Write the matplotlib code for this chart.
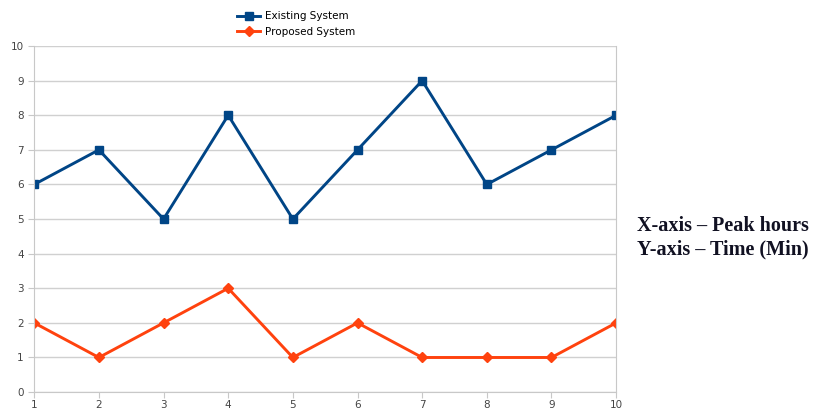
import matplotlib.pyplot as plt

# peak hours and time (min)
hours = [1, 2, 3, 4, 5, 6, 7, 8, 9, 10]
existing = [6, 7, 5, 8, 5, 7, 9, 6, 7, 8]
proposed = [2, 1, 2, 3, 1, 2, 1, 1, 1, 2]

fig = plt.figure(figsize=(8.15, 4.11), dpi=100)
ax = fig.add_axes([0.042, 0.046, 0.714, 0.842])

ax.plot(hours, existing, color='#004586', linewidth=2.1, marker='s', markersize=6,
        label='Existing System')
ax.plot(hours, proposed, color='#ff420e', linewidth=2.1, marker='D', markersize=5,
        label='Proposed System')

ax.set_xlim(1, 10)
ax.set_ylim(0, 10)
ax.set_xticks(hours)
ax.set_yticks(range(0, 11))
ax.grid(axis='y', color='#d0d0d0', linewidth=1)
ax.set_axisbelow(True)
ax.spines['top'].set_visible(False)
for side in ['left', 'bottom', 'right']:
    ax.spines[side].set_color('#c8c8c8')
ax.tick_params(colors='#c8c8c8', labelcolor='#444444', labelsize=7.5, length=4)
ax.tick_params(axis='x', pad=1.5)

ax.legend(loc='lower center', bbox_to_anchor=(0.45, 1.012), frameon=False, fontsize=7.5,
          handlelength=2.2, labelspacing=0.5, borderaxespad=0.1, handletextpad=0.4)

fig.text(0.781, 0.438, 'X-axis \u2013 Peak hours', family='Liberation Serif',
         fontweight='bold', fontsize=14.5, color='#111122')
fig.text(0.781, 0.38, 'Y-axis \u2013 Time (Min)', family='Liberation Serif',
         fontweight='bold', fontsize=14.5, color='#111122')

fig.savefig('out.png', dpi=100)
